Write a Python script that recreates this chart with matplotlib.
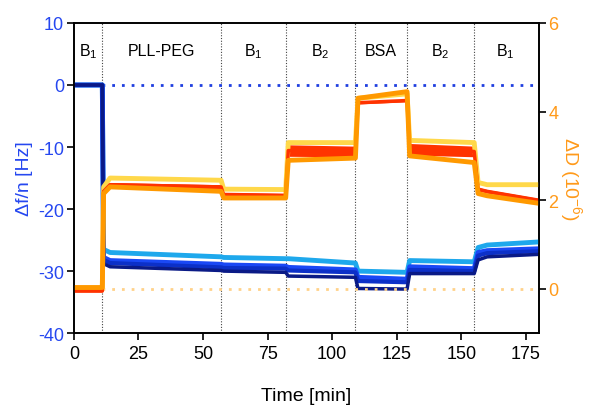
import matplotlib
matplotlib.use('Agg')
from matplotlib import pyplot as plt
import numpy as np

plt.rcParams['font.family'] = ['Liberation Sans', 'DejaVu Sans']
plt.rcParams['mathtext.default'] = 'regular'
plt.rcParams['axes.unicode_minus'] = False

# time breakpoints [min]
time = [0, 11, 11.5, 14, 57, 58, 82, 83, 109, 110, 129, 130, 155, 156.5, 160, 180]

# frequency shift (Hz), four overtones
f_light = [0, 0, -26.5, -27.0, -27.7, -27.8, -28.0, -28.0, -28.7, -30.0, -30.2, -28.3, -28.5, -26.2, -25.8, -25.3]
f_bright = [0, 0, -27.8, -28.3, -28.9, -29.0, -29.2, -29.4, -29.8, -31.0, -31.3, -29.3, -29.6, -27.0, -26.7, -26.4]
f_mid = [0, 0, -28.2, -28.7, -29.4, -29.5, -29.6, -29.9, -30.2, -31.6, -31.8, -29.8, -30.0, -27.5, -27.1, -26.8]
f_navy = [0, 0, -28.8, -29.3, -29.9, -30.0, -30.2, -30.8, -31.0, -32.8, -32.9, -30.4, -30.4, -28.2, -27.7, -27.3]

# dissipation shift (1e-6)
d_yellow = [0, 0, 2.3, 2.5, 2.45, 2.25, 2.24, 3.3, 3.3, 4.3, 4.4, 3.35, 3.3, 2.4, 2.35, 2.35]
d_red = [-0.05, -0.05, 2.2, 2.35, 2.3, 2.12, 2.1, 3.12, 3.1, 4.2, 4.25, 3.15, 3.1, 2.25, 2.2, 2.0]
d_red_spread = [0.02, 0.02, 0.03, 0.05, 0.05, 0.06, 0.06, 0.13, 0.12, 0.03, 0.03, 0.13, 0.12, 0.04, 0.04, 0.04]
d_orange = [0.03, 0.03, 2.15, 2.3, 2.2, 2.05, 2.05, 2.9, 2.95, 4.3, 4.45, 3.0, 2.85, 2.15, 2.1, 1.93]

steps = [11, 57, 82, 109, 129, 155]
stage_x = [5.5, 34, 69.5, 95.5, 119, 142, 167]
stage_names = ['B$_1$', 'PLL-PEG', 'B$_1$', 'B$_2$', 'BSA', 'B$_2$', 'B$_1$']

blue_txt = '#2547f0'
orange_txt = '#ff9a1a'

fig = plt.figure(figsize=(5.96, 4.06), dpi=100)
ax = fig.add_axes([0.124, 0.177, 0.780, 0.764])
ax2 = ax.twinx()

for x in steps:
    ax.axvline(x, color='#444444', ls=(0, (1, 1.5)), lw=0.8, zorder=1)

ax.plot([11, 180], [0, 0], color='#1f3fe0', ls=(0, (1, 2.5)), lw=2, zorder=2)

ax.plot(time, f_light, color='#1ea8ec', lw=3.5, zorder=3)
ax.plot(time, f_bright, color='#1a48f5', lw=3.5, zorder=4)
ax.plot(time, f_mid, color='#0c30c8', lw=3.0, zorder=5)
ax.plot(time, f_navy, color='#0a1a86', lw=2.5, zorder=6)

ax2.plot([11, 180], [0, 0], color='#ffd28a', ls=(0, (1, 2.5)), lw=2)
ax2.plot(time, d_yellow, color='#ffd84a', lw=3.5)
lo = np.array(d_red) - np.array(d_red_spread)
hi = np.array(d_red) + np.array(d_red_spread)
ax2.fill_between(time, lo, hi, color='#ff3300', lw=0)
ax2.plot(time, d_red, color='#ff3300', lw=2.5)
ax2.plot(time, d_orange, color='#ff9900', lw=3.5)

for x, name in zip(stage_x, stage_names):
    ax.text(x, 5.5, name, ha='center', va='center', fontsize=11.5)

ax.set_xlim(0, 180)
ax.set_ylim(-40, 10)
ax2.set_ylim(-1, 6)
ax.set_xticks([0, 25, 50, 75, 100, 125, 150, 175])
ax.set_yticks([10, 0, -10, -20, -30, -40])
ax2.set_yticks([0, 2, 4, 6])

ax.tick_params(axis='x', labelsize=13, length=5, width=1.2)
ax.tick_params(axis='y', labelsize=13, length=5, width=1.2, labelcolor=blue_txt, pad=2)
ax2.tick_params(axis='y', labelsize=13, length=5, width=1.2, labelcolor=orange_txt, pad=2)
for sp in ax.spines.values():
    sp.set_linewidth(1.2)
for sp in ax2.spines.values():
    sp.set_linewidth(1.2)

ax.set_xlabel('Time [min]', fontsize=14, labelpad=18)
ax.set_ylabel('Δf/n [Hz]', fontsize=14, color=blue_txt, labelpad=4)
ax2.set_ylabel('ΔD (10$^{-6}$)', fontsize=14, color=orange_txt, rotation=270, labelpad=18)

fig.savefig('out.png', dpi=100)
